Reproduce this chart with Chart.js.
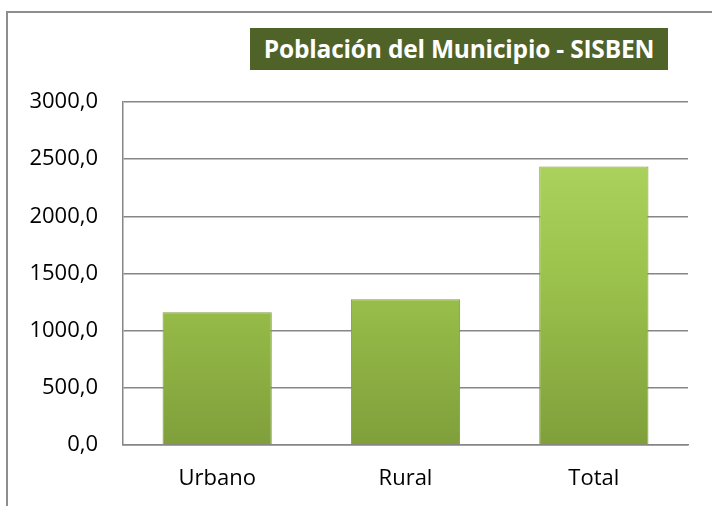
<!DOCTYPE html>
<html><head><meta charset="utf-8">
<script src="https://cdn.jsdelivr.net/npm/chart.js@4"></script>
<style>
html,body{margin:0;padding:0;width:712px;height:506px;overflow:hidden;background:#fff;}
#frame{position:absolute;left:6px;top:11px;width:800px;height:600px;border:2px solid #8e8e8e;box-sizing:border-box;}
#wrap{position:absolute;left:0;top:0;width:712px;height:506px;}
#title{position:absolute;left:250px;top:28px;width:418px;height:42px;background:#4F6228;color:#fff;font:bold 24.5px "Open Sans",sans-serif;line-height:42px;text-align:center;white-space:nowrap;letter-spacing:-0.2px;}
</style></head>
<body>
<div id="frame"></div>
<div id="wrap"><canvas id="c" width="712" height="506"></canvas></div>
<div id="title">Población del Municipio - SISBEN</div>
<script>
const categories = ["Urbano", "Rural", "Total"];
const poblacion = [1160, 1275, 2435];
const yTicks = [0, 500, 1000, 1500, 2000, 2500, 3000];

function barGradient(ctx){
  const chart = ctx.chart; const area = chart.chartArea;
  if(!area) return '#9bc34a';
  const el = ctx.element;
  const top = el && el.y !== undefined ? el.y : area.top;
  const bottom = el && el.base !== undefined ? el.base : area.bottom;
  if(!isFinite(top) || !isFinite(bottom) || top===bottom) return '#9bc34a';
  const g = chart.ctx.createLinearGradient(0, top, 0, bottom);
  g.addColorStop(0, '#c6e87e');
  g.addColorStop(0.05, '#b0d862');
  g.addColorStop(0.5, '#9cc34c');
  g.addColorStop(1, '#809f3b');
  return g;
}

new Chart(document.getElementById('c'), {
  type: 'bar',
  data: {
    labels: categories,
    datasets: [{
      data: poblacion,
      backgroundColor: barGradient,
      borderColor: '#7f9d3a',
      borderWidth: 1,
      categoryPercentage: 1,
      barPercentage: 0.58
    }]
  },
  options: {
    responsive: false,
    animation: false,
    layout: { padding: { left: 0, right: 24, top: 102, bottom: 0 } },
    plugins: { legend: { display: false }, tooltip: { enabled: false }, title: { display: false } },
    scales: {
      x: {
        grid: { display: false, drawTicks: false },
        border: { display: true, color: '#868686', width: 1.5 },
        ticks: { color: '#000', font: { family: 'Open Sans', size: 22 }, padding: 21 },
        afterFit: s => { s.height = 61; }
      },
      y: {
        min: 0, max: 3000,
        afterBuildTicks: s => { s.ticks = yTicks.map(v => ({ value: v })); },
        grid: { color: '#868686', lineWidth: 1.5, drawTicks: false },
        border: { display: true, color: '#868686', width: 1.5 },
        ticks: {
          color: '#000', font: { family: 'Open Sans', size: 22 }, padding: 25,
          callback: v => v.toFixed(1).replace('.', ',')
        },
        afterFit: s => { s.width = 123; }
      }
    }
  }
});
</script>
</body></html>
